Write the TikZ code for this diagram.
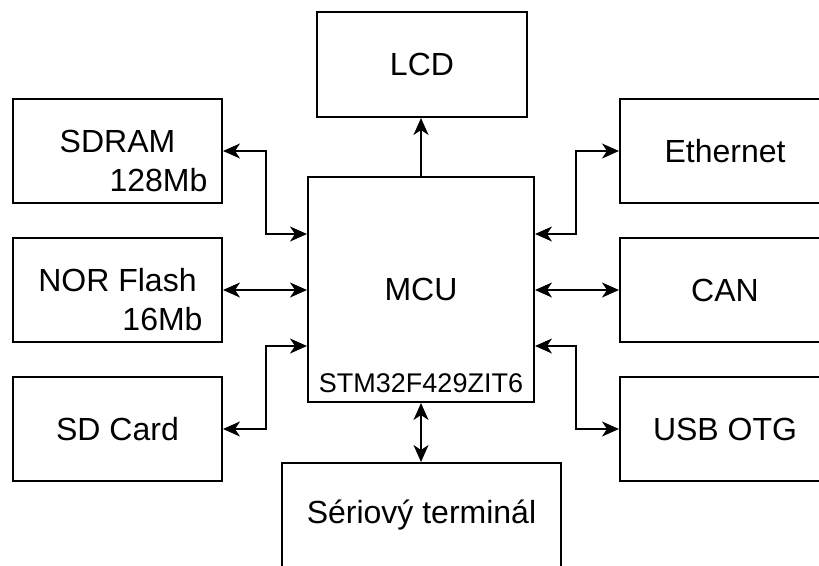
\documentclass[tikz,border=0pt]{standalone}
\usepackage{fontspec}
\setmainfont{Liberation Sans}
\usetikzlibrary{arrows.meta, positioning}

\begin{document}
\begin{tikzpicture}[x=1pt, y=-1pt,
  blok/.style={draw, line width=2pt, minimum width=209pt, minimum height=104pt, inner sep=0pt, font=\fontsize{32}{39}\selectfont},
  popis/.style={inner sep=0pt, align=center, font=\fontsize{32}{39}\selectfont},
  hrot/.tip={Stealth[length=17pt 0, width=15pt 0, inset=5pt 0]},
  spoj/.style={line width=2pt, hrot-hrot},
  spojR/.style={line width=2pt, -hrot}
]
  \useasboundingbox (0,0) rectangle (819,565);
  \clip (0,0) rectangle (819,565);
  % Bloky
  \node[blok, minimum width=226pt, minimum height=225pt] (mcu) at (421,289.5) {MCU};
  \node[inner sep=0pt, font=\fontsize{27}{32}\selectfont, above=10pt of mcu.south] (mcuT) {STM32F429ZIT6};
  \node[blok, minimum width=210pt, minimum height=105pt] (lcd) at (422,64.5) {LCD};
  \node[blok] (sdram) at (117.5,151) {};
  \node[popis] (sdramT) at ([yshift=-10pt]sdram.center) {SDRAM\\\hspace*{82pt}128Mb};
  \node[blok] (nor) at (117.5,290) {};
  \node[popis] (norT) at ([yshift=-10pt]nor.center) {NOR Flash\\\hspace*{90pt}16Mb};
  \node[blok] (sd) at (117.5,429) {SD Card};
  \node[blok, minimum width=210pt] (eth) at (725,151) {Ethernet};
  \node[blok, minimum width=210pt] (can) at (725,290) {CAN};
  \node[blok, minimum width=210pt] (usb) at (725,429) {USB OTG};
  \node[blok, minimum width=279pt] (ser) at (421.5,515) {Sériový terminál};
  % Spoje
  \draw[spojR] (mcu.north) -- (mcu.north |- lcd.south);
  \draw[spoj] (mcu.south) -- (mcu.south |- ser.north);
  \draw[spoj] (sdram.east) -- ++(43,0) |- (mcu.west |- 0,234);
  \draw[spoj] (nor.east) -- (mcu.west |- nor.east);
  \draw[spoj] (sd.east) -- ++(43,0) |- (mcu.west |- 0,346);
  \draw[spoj] (eth.west) -- ++(-43,0) |- (mcu.east |- 0,234);
  \draw[spoj] (can.west) -- (mcu.east |- can.west);
  \draw[spoj] (usb.west) -- ++(-43,0) |- (mcu.east |- 0,346);
\end{tikzpicture}
\end{document}
